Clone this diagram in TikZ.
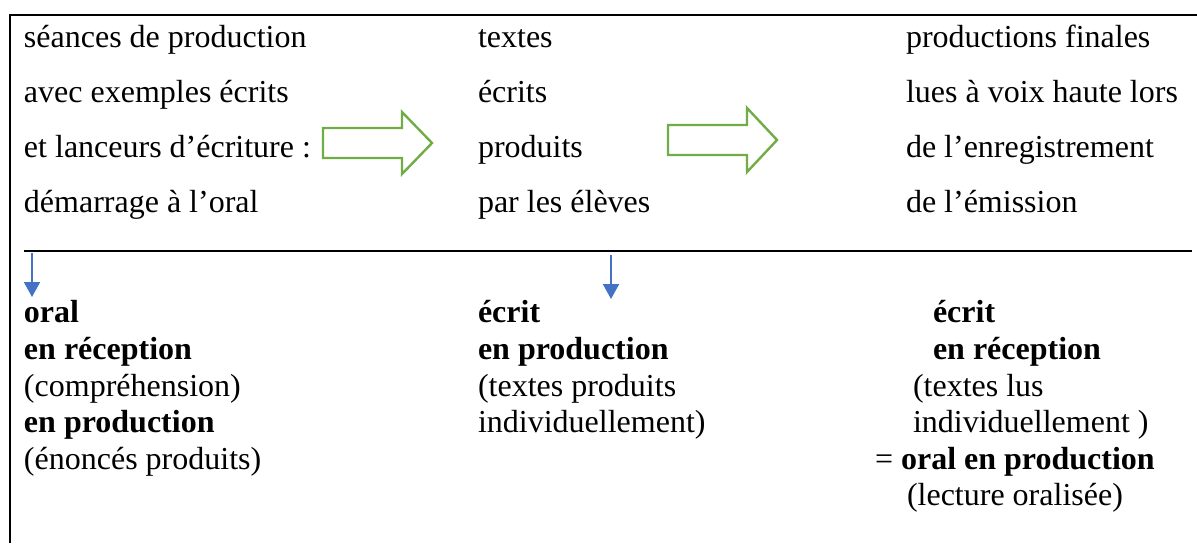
\documentclass[tikz,border=0pt]{standalone}
\usepackage{fontspec}
\setmainfont{Liberation Serif}
\usetikzlibrary{arrows.meta}
\definecolor{offgreen}{HTML}{70AD47}
\definecolor{offblue}{HTML}{4472C4}
\begin{document}
\begin{tikzpicture}[x=0.5pt,y=-0.5pt,
  txt/.style={anchor=base west,inner sep=0pt,outer sep=0pt,font=\fontsize{16}{18}\selectfont},
  bld/.style={txt,font=\fontsize{16}{18}\selectfont\bfseries},
  blockarrow/.style={draw=offgreen,line width=1.2pt,line join=miter},
  downarrow/.style={draw=offblue,line width=1pt,-{Triangle[length=7.5pt,width=8pt]}},
  frameline/.style={draw=black,line width=1.2pt}]
\useasboundingbox (0,0) rectangle (1197,543);
% frame
\coordinate (ftl) at (10,15);
\coordinate (ftr) at (1197,15);
\coordinate (fbl) at (10,543);
\draw[frameline] (ftr) -- (ftl) -- (fbl);
% top texts
\node[txt] (a1) at (24,47) {séances de production};
\node[txt] (a2) at (24,102) {avec exemples écrits};
\node[txt] (a3) at (24,157) {et lanceurs d’écriture :};
\node[txt] (a4) at (24,212) {démarrage à l’oral};
\node[txt] (b1) at (478,47) {textes};
\node[txt] (b2) at (478,102) {écrits};
\node[txt] (b3) at (478,157) {produits};
\node[txt] (b4) at (478,212) {par les élèves};
\node[txt] (c1) at (906,47) {productions finales};
\node[txt] (c2) at (906,102) {lues à voix haute lors};
\node[txt] (c3) at (906,157) {de l’enregistrement};
\node[txt] (c4) at (906,212) {de l’émission};
% green block arrows
\draw[blockarrow] (323,128) -- (402,128) -- (402,112) -- (432,143) -- (402,174) -- (402,158) -- (323,158) -- cycle;
\draw[blockarrow] (668,125) -- (747,125) -- (747,108) -- (777,140) -- (747,172) -- (747,155) -- (668,155) -- cycle;
% separator rule
\coordinate (rl) at (24,251);
\coordinate (rr) at (1192,251);
\draw[black,line width=0.8pt] (rl) -- (rr);
% blue arrows
\coordinate (d1s) at (32,253);
\coordinate (d1e) at (32,297);
\coordinate (d2s) at (611,255);
\coordinate (d2e) at (611,299);
\draw[downarrow] (d1s) -- (d1e);
\draw[downarrow] (d2s) -- (d2e);
% bottom column 1
\node[bld] (p1) at (24,322) {oral};
\node[bld] (p2) at (24,359) {en réception};
\node[txt] (p3) at (24,396) {(compréhension)};
\node[bld] (p4) at (24,432) {en production};
\node[txt] (p5) at (24,469) {(énoncés produits)};
% bottom column 2
\node[bld] (q1) at (478,322) {écrit};
\node[bld] (q2) at (478,359) {en production};
\node[txt] (q3) at (478,396) {(textes produits};
\node[txt] (q4) at (478,432) {individuellement)};
% bottom column 3
\node[bld] (r1) at (933,322) {écrit};
\node[bld] (r2) at (933,359) {en réception};
\node[txt] (r3) at (913,396) {(textes lus};
\node[txt] (r4) at (913,432) {individuellement )};
\node[txt] (r5) at (875,469) {= \textbf{oral en production}};
\node[txt] (r6) at (907,505) {(lecture oralisée)};
\end{tikzpicture}
\end{document}
